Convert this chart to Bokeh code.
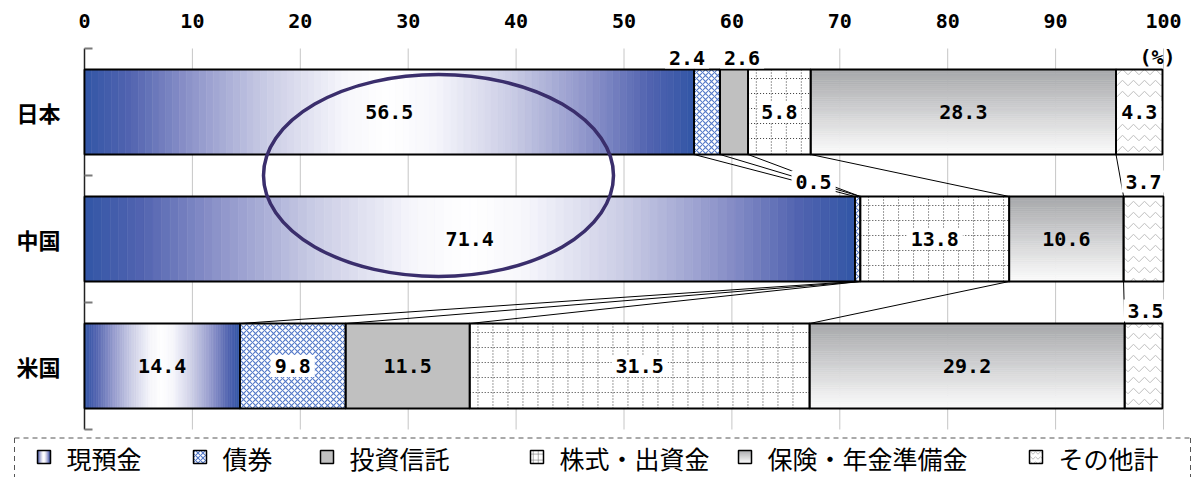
from bokeh.plotting import figure
from bokeh.models import Range1d, ColumnDataSource
from bokeh.embed import file_html
from bokeh.resources import INLINE
from bokeh.core.properties import value

# ---------------------------------------------------------------- data
countries = ["日本", "中国", "米国"]
asset_types = ["現預金", "債券", "投資信託", "株式・出資金", "保険・年金準備金", "その他計"]
japan = [56.5, 2.4, 2.6, 5.8, 28.3, 4.3]
china = [71.4, 0.5, 0.0, 13.8, 10.6, 3.7]
usa = [14.4, 9.8, 11.5, 31.5, 29.2, 3.5]
x_ticks = [0, 10, 20, 30, 40, 50, 60, 70, 80, 90, 100]
unit_label = "(%)"

shares = [japan, china, usa]

# ---------------------------------------------------------------- page geometry (pixels)
W, H = 1194, 477
PX_LEFT, PX_PER_X = 84, 10.79      # where 0 % sits and pixels per percentage point
PX_TOP, PX_PER_ROW = 48, 127       # top of the first country band and band height


def sx(px):
    return (px - PX_LEFT) / PX_PER_X


def sy(py):
    return (py - PX_TOP) / PX_PER_ROW


# ---------------------------------------------------------------- styling
NUM_FONT = "DejaVu Sans Mono"
JP_FONT = "Noto Sans CJK JP"
CASH_STOPS = [(0.0, (255, 255, 255)), (0.15, (246, 246, 251)), (0.4, (202, 204, 229)),
              (0.65, (142, 148, 202)), (0.85, (82, 100, 176)), (1.0, (50, 86, 166))]
PENSION_TOP = (166, 167, 170)
PENSION_BOTTOM = (252, 252, 252)

solid_styles = {
    "債券": dict(fill_color="white", hatch_pattern="diagonal_cross", hatch_color="#5479C8",
               hatch_scale=6, hatch_weight=1.1),
    "投資信託": dict(fill_color="#C0C0C0"),
    "株式・出資金": dict(fill_color="white"),
    "その他計": dict(fill_color="white", hatch_pattern="horizontal_wave", hatch_color="#BDBDBD",
                 hatch_scale=11, hatch_weight=1),
}
boxed_types = {"債券", "株式・出資金", "その他計"}
outside_limit = 4.0
outside_nudge = {(0, 1): (-20, -12), (0, 2): (8, -12), (1, 1): (-44, -15),
                 (1, 5): (0, -15), (2, 5): (2, -13)}

BAR_HALF = 85 / PX_PER_ROW / 2
DOT_STEP_X = 15 / PX_PER_X
DOT_STEP_Y = 15 / PX_PER_ROW


def rgb_hex(c):
    return "#%02x%02x%02x" % tuple(int(round(v)) for v in c)


def mix(a, b, t):
    return tuple(a[i] + (b[i] - a[i]) * t for i in range(3))


def cash_color(t):
    for (t0, c0), (t1, c1) in zip(CASH_STOPS[:-1], CASH_STOPS[1:]):
        if t <= t1:
            return rgb_hex(mix(c0, c1, (t - t0) / (t1 - t0)))
    return rgb_hex(CASH_STOPS[-1][1])


def h_gradient(left, right, top, bottom, n):
    """Blue-white-blue strips across a segment."""
    out = dict(left=[], right=[], top=[], bottom=[], color=[])
    c = (left + right) / 2.0
    half = (right - left) / 2.0
    for i in range(n):
        l = left + (right - left) * i / n
        r = left + (right - left) * (i + 1) / n
        out["left"].append(l); out["right"].append(r)
        out["top"].append(top); out["bottom"].append(bottom)
        out["color"].append(cash_color(abs((l + r) / 2.0 - c) / half))
    return out


def v_gradient(left, right, top, bottom, n):
    """Grey-to-white strips from the top edge of a segment down."""
    out = dict(left=[], right=[], top=[], bottom=[], color=[])
    for i in range(n):
        a = top + (bottom - top) * i / n
        b = top + (bottom - top) * (i + 1) / n
        out["left"].append(left); out["right"].append(right)
        out["top"].append(a); out["bottom"].append(b)
        out["color"].append(rgb_hex(mix(PENSION_TOP, PENSION_BOTTOM, (i + 0.5) / n)))
    return out


def merge(dst, src):
    for k in dst:
        dst[k].extend(src[k])


def dotted_grid(left, right, top, bottom, step_x, step_y):
    xs, ys = [], []
    x = left + step_x * 0.55
    while x < right - step_x * 0.2:
        xs.append([x, x]); ys.append([top, bottom]); x += step_x
    y = top + step_y * 0.6
    while y < bottom - step_y * 0.2:
        xs.append([left, right]); ys.append([y, y]); y += step_y
    return xs, ys


# ---------------------------------------------------------------- bar geometry
row_y = [i + 0.5 for i in range(len(countries))]
bounds = []
for vals in shares:
    edges = [0.0]
    for v in vals:
        edges.append(round(edges[-1] + v, 2))
    bounds.append(edges)

p = figure(width=W, height=H, x_range=Range1d(sx(0), sx(W)), y_range=Range1d(sy(H), sy(0)),
           x_axis_location=None, y_axis_location=None, output_backend="svg",
           toolbar_location=None, min_border=0)
p.min_border_left = p.min_border_right = p.min_border_top = p.min_border_bottom = 0
p.outline_line_color = None
p.grid.visible = False

n_rows = len(countries)

# vertical grid lines and the category axis
p.segment(x0=x_ticks[1:], x1=x_ticks[1:], y0=[0] * (len(x_ticks) - 1), y1=[n_rows] * (len(x_ticks) - 1),
          line_color="#C6C6C6", line_width=1)
p.segment(x0=[0], x1=[0], y0=[0], y1=[n_rows], line_color="#222222", line_width=1.5)
band_edges = list(range(n_rows + 1))
p.segment(x0=[0] * len(band_edges), x1=[sx(PX_LEFT + 8)] * len(band_edges),
          y0=band_edges, y1=band_edges, line_color="#7A7A7A", line_width=2)

# percentage scale along the top
p.text(x=x_ticks, y=[sy(20)] * len(x_ticks), text=[str(t) for t in x_ticks],
       text_font=value(NUM_FONT), text_font_style="bold", text_font_size="20px",
       text_align="center", text_baseline="middle", text_color="black")
p.text(x=[100], y=[sy(56)], text=[unit_label], x_offset=-6,
       text_font=value(NUM_FONT), text_font_style="bold", text_font_size="20px",
       text_align="center", text_baseline="middle", text_color="black")

# country names
p.text(x=[sx(60)] * n_rows, y=row_y, text=countries,
       text_font=value(JP_FONT), text_font_style="bold", text_font_size="22px",
       text_align="right", text_baseline="middle", text_color="black")

# connector lines between matching segment boundaries of neighbouring bars
for a in range(n_rows - 1):
    b = a + 1
    k = len(asset_types) - 1
    p.segment(x0=bounds[a][1:-1], y0=[row_y[a] + BAR_HALF] * k,
              x1=bounds[b][1:-1], y1=[row_y[b] - BAR_HALF] * k,
              line_color="black", line_width=1)

# gradient-filled segments
cash = dict(left=[], right=[], top=[], bottom=[], color=[])
pension = dict(left=[], right=[], top=[], bottom=[], color=[])
for r, edges in enumerate(bounds):
    top, bot = row_y[r] - BAR_HALF, row_y[r] + BAR_HALF
    merge(cash, h_gradient(edges[0], edges[1], top, bot, 90))
    merge(pension, v_gradient(edges[4], edges[5], top, bot, 40))
for src in (cash, pension):
    p.quad(left="left", right="right", top="top", bottom="bottom", source=ColumnDataSource(src),
           fill_color="color", line_color="color", line_width=0.6)

# flat and patterned segments
dots_x, dots_y = [], []
for k, name in enumerate(asset_types):
    if name not in solid_styles:
        continue
    seg = dict(left=[], right=[], top=[], bottom=[])
    for r, edges in enumerate(bounds):
        if shares[r][k] <= 0:
            continue
        t, b = row_y[r] - BAR_HALF, row_y[r] + BAR_HALF
        seg["left"].append(edges[k]); seg["right"].append(edges[k + 1])
        seg["top"].append(t); seg["bottom"].append(b)
        if name == "株式・出資金":
            gx, gy = dotted_grid(edges[k], edges[k + 1], t, b, DOT_STEP_X, DOT_STEP_Y)
            dots_x += gx; dots_y += gy
    p.quad(source=ColumnDataSource(seg), left="left", right="right", top="top", bottom="bottom",
           line_color=None, **solid_styles[name])
p.multi_line(xs=dots_x, ys=dots_y, line_color="#3A3A3A", line_width=1, line_dash="1 2")

# black outlines of every segment
outl = dict(left=[], right=[], top=[], bottom=[])
for r, edges in enumerate(bounds):
    for k in range(len(asset_types)):
        if shares[r][k] <= 0:
            continue
        outl["left"].append(edges[k]); outl["right"].append(edges[k + 1])
        outl["top"].append(row_y[r] - BAR_HALF); outl["bottom"].append(row_y[r] + BAR_HALF)
p.quad(source=ColumnDataSource(outl), left="left", right="right", top="top", bottom="bottom",
       fill_color=None, line_color="black", line_width=1.8)

# value labels
plain = dict(x=[], y=[], text=[], dx=[], dy=[])
boxed = dict(x=[], y=[], text=[], dx=[], dy=[])
for r, vals in enumerate(shares):
    for k, v in enumerate(vals):
        if v <= 0:
            continue
        mid = (bounds[r][k] + bounds[r][k + 1]) / 2.0
        if v < outside_limit:
            dx, dy = outside_nudge.get((r, k), (0, -12))
            tgt, y = boxed, row_y[r] - BAR_HALF
        else:
            dx, dy = 0, 0
            tgt = boxed if asset_types[k] in boxed_types else plain
            y = row_y[r]
        tgt["x"].append(mid); tgt["y"].append(y); tgt["text"].append(f"{v:.1f}")
        tgt["dx"].append(dx); tgt["dy"].append(dy)

p.text(x="x", y="y", text="text", x_offset="dx", y_offset="dy", source=ColumnDataSource(plain),
       text_font=value(NUM_FONT), text_font_style="bold", text_font_size="20px",
       text_align="center", text_baseline="middle", text_color="black")
p.text(x="x", y="y", text="text", x_offset="dx", y_offset="dy", source=ColumnDataSource(boxed),
       text_font=value(NUM_FONT), text_font_style="bold", text_font_size="20px",
       text_align="center", text_baseline="middle", text_color="black",
       background_fill_color="white", padding=4)

# ring drawn round the cash shares of Japan and China
p.ellipse(x=sx(438), y=sy(175), width=350 / PX_PER_X, height=202 / PX_PER_ROW,
          fill_color=None, line_color="#3A2E6C", line_width=3.5)

# ---------------------------------------------------------------- legend along the bottom
BOX_L, BOX_R, BOX_T = 14, 1190, 437.5
p.multi_line(xs=[[sx(BOX_L), sx(BOX_R)], [sx(BOX_L), sx(BOX_L)], [sx(BOX_R), sx(BOX_R)]],
             ys=[[sy(BOX_T), sy(BOX_T)], [sy(BOX_T), sy(H)], [sy(BOX_T), sy(H)]],
             line_color="#555555", line_dash="5 4", line_width=1)

swatch_px = [37, 193, 320, 530, 738, 1029]
SW = 13
for name, px in zip(asset_types, swatch_px):
    l, r = sx(px), sx(px + SW)
    t, b = sy(450), sy(463)
    if name == "現預金":
        g = h_gradient(l, r, t, b, 13)
        p.quad(source=ColumnDataSource(g), left="left", right="right", top="top", bottom="bottom",
               fill_color="color", line_color="color", line_width=0.6)
    elif name == "保険・年金準備金":
        g = v_gradient(l, r, t, b, 13)
        p.quad(source=ColumnDataSource(g), left="left", right="right", top="top", bottom="bottom",
               fill_color="color", line_color="color", line_width=0.6)
    elif name == "株式・出資金":
        p.quad(left=[l], right=[r], top=[t], bottom=[b], fill_color="white", line_color=None)
        gx, gy = dotted_grid(l, r, t, b, 5 / PX_PER_X, 6 / PX_PER_ROW)
        p.multi_line(xs=gx, ys=gy, line_color="#666666", line_width=1, line_dash="1 1")
    else:
        sty = dict(solid_styles[name])
        if "hatch_scale" in sty:
            sty["hatch_scale"] = min(sty["hatch_scale"], 5)
        p.quad(left=[l], right=[r], top=[t], bottom=[b], line_color=None, **sty)
    p.quad(left=[l], right=[r], top=[t], bottom=[b], fill_color=None,
           line_color="black", line_width=1.5)
p.text(x=[sx(px + 29) for px in swatch_px], y=[sy(457)] * len(asset_types), text=asset_types,
       text_font=value(JP_FONT), text_font_size="25px", text_align="left",
       text_baseline="middle", text_color="black")

open("out.html", "w").write(file_html(p, INLINE))
